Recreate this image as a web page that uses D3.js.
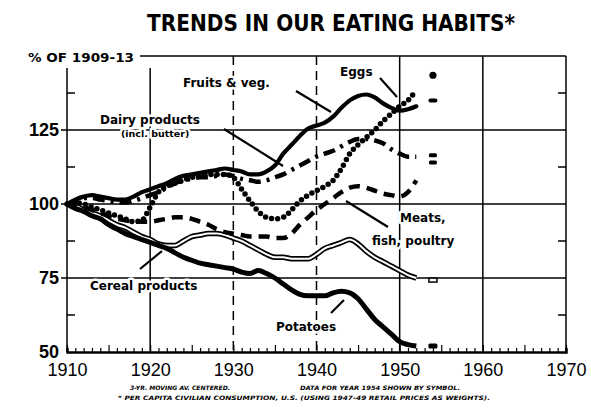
<!DOCTYPE html>
<html lang="en">
<head>
    <meta charset="UTF-8">
    <title>Trends in our eating habits</title>
    <script src="https://d3js.org/d3.v7.min.js"></script>
    <style>
        body { margin: 0; background: #fff; }
        text { fill: #000; }
        text.label {
            font-family: 'DejaVu Sans', sans-serif;
            font-weight: bold;
            font-size: 12px;
            stroke: #fff;
            stroke-width: 5px;
            paint-order: stroke;
            stroke-linejoin: round;
        }
        text.note {
            font-family: 'DejaVu Sans', sans-serif;
            font-weight: bold;
            font-style: italic;
            font-size: 6px;
        }
    </style>
</head>
<body>
<svg height="410" width="591"></svg>
<script>
    // 3-yr moving averages, % of 1909-13, years 1910..1952
    const years = [1910,1911,1912,1913,1914,1915,1916,1917,1918,1919,
                   1920,1921,1922,1923,1924,1925,1926,1927,1928,1929,
                   1930,1931,1932,1933,1934,1935,1936,1937,1938,1939,
                   1940,1941,1942,1943,1944,1945,1946,1947,1948,1949,
                   1950,1951,1952];
    const fruits = [100,101.5,102.5,103,102.5,102,101.5,101.5,102.5,104,
                    105,106,107,108.5,109.5,110,110.5,111,111.5,112,
                    111.5,111,110,110,111,113,117,120,123,125.5,
                    126.5,127.5,129.5,132.5,135,136.5,137,136,134,132.5,
                    131.5,132,133];
    const eggs = [100,100.5,100,99,98,97,96,95,94,94.5,
                  99,104,106,107,108,109,109.5,110,110,110,
                  109,105,101,97.5,95.5,95,95.5,98,101,103,
                  104.5,106,108,112,117,120,122.5,125,128,130.5,
                  133,135,138.5];
    const dairy = [100,101,102,102,101.5,101,100.5,100.5,101,102,
                   103,104,105.5,107,108,108.5,109,109,109.5,110,
                   109.5,108.5,108,107.5,108,109,110,111.5,113,114.5,
                   116,117,118,119.5,121,122,122,121.5,120.5,118.5,
                   117,116,116];
    const meats = [100,100,99,98,97,96,95,94.5,94,94,
                   94,94.5,95,95.5,95.5,95,94,93,91.5,90.5,
                   90,89.5,89,89,89,88.5,88.5,90,93,95.5,
                   98,100,102,104,105.5,106,105.5,104.5,103.5,103,
                   102.5,104,108];
    const cereal = [100,99.5,98,97,96,94.5,93,92,90.5,89,
                    88,86.5,86,86,87.5,89,89.5,90,90,89.5,
                    88.5,87.5,86,84.5,83,82,82,81.5,81.5,81.5,
                    83,85,86,87,88,86.5,84,82,80.5,79,
                    77.5,76,75];
    const potatoes = [100,98.5,97.5,96,95,93,91.5,90,89,88,
                      87,86,85,83.5,82,81,80,79.5,79,78.5,
                      78,77,76.5,77.5,76.5,75,73,71,69.5,69,
                      69,69,70,70.5,70,68,64.5,61,58.5,56,
                      53.5,52.5,52];
    // 1954 values shown by symbol
    const year1954 = 1954;
    const sym1954 = {eggs: 143.5, fruits: 135, dairy: 116.5, meats: 114, cereal: 74.3, potatoes: 52};

    const decadeTicks = [1910,1920,1930,1940,1950,1960,1970];
    const valueTicks = [50,75,100,125];
    const minorValueTicks = [62.5,87.5,112.5,137.5];

    const svg = d3.select("svg");
    const x = d3.scaleLinear().domain([1910,1970]).range([67,566]);
    const y = d3.scaleLinear().domain([50,150]).range([352,56]);

    // title
    svg.append("text").attr("x", 331).attr("y", 31)
        .attr("text-anchor", "middle")
        .style("font-family", "'DejaVu Sans', sans-serif")
        .style("font-weight", "bold").style("font-size", "23px")
        .attr("textLength", 368).attr("lengthAdjust", "spacingAndGlyphs")
        .text("TRENDS IN OUR EATING HABITS*");

    svg.append("text").attr("x", 28).attr("y", 62)
        .style("font-family", "'DejaVu Sans', sans-serif")
        .style("font-weight", "bold").style("font-size", "13px")
        .attr("textLength", 106).attr("lengthAdjust", "spacingAndGlyphs")
        .text("% OF 1909-13");

    const grid = svg.append("g").attr("stroke", "#000").attr("fill", "none");
    // frame
    grid.append("line").attr("x1", 140).attr("x2", x(1970)).attr("y1", y(150)).attr("y2", y(150)).attr("stroke-width", 1.5);
    grid.append("line").attr("x1", x(1910)).attr("x2", x(1910)).attr("y1", 68).attr("y2", y(50)).attr("stroke-width", 1.5);
    grid.append("line").attr("x1", x(1970)).attr("x2", x(1970)).attr("y1", y(150)).attr("y2", y(50)).attr("stroke-width", 1.5);
    // horizontal grid lines
    grid.selectAll("line.h").data([75,100,125]).enter().append("line").attr("class", "h")
        .attr("x1", x(1910) - 6).attr("x2", x(1970)).attr("y1", y).attr("y2", y)
        .attr("stroke-width", 1.6);
    // vertical grid lines
    grid.selectAll("line.v").data([1920,1930,1940,1950,1960]).enter().append("line").attr("class", "v")
        .attr("x1", x).attr("x2", x)
        .attr("y1", d => d === 1920 ? 68 : y(150)).attr("y2", y(50))
        .attr("stroke-width", 1.5)
        .attr("stroke-dasharray", d => (d === 1930 || d === 1940) ? "9,6" : null);
    // minor value ticks on both sides
    grid.selectAll("line.ml").data(minorValueTicks).enter().append("line")
        .attr("x1", x(1910)).attr("x2", x(1910) + 8).attr("y1", y).attr("y2", y).attr("stroke-width", 1.5);
    grid.selectAll("line.mr").data(minorValueTicks).enter().append("line")
        .attr("x1", x(1970) - 8).attr("x2", x(1970)).attr("y1", y).attr("y2", y).attr("stroke-width", 1.5);

    // bottom axis: year ticks + decade labels
    const yearTicks = d3.range(1910, 1971);
    const gx = svg.append("g").attr("transform", `translate(0,${y(50)})`);
    gx.call(d3.axisBottom(x).tickValues(yearTicks).tickSize(-4).tickFormat(""));
    gx.selectAll(".tick line").attr("stroke-width", 1.2)
        .attr("y2", d => d % 5 === 0 ? -7 : -4);
    gx.select(".domain").attr("stroke-width", 2.5);
    const gxl = svg.append("g").attr("transform", `translate(0,${y(50)})`);
    gxl.call(d3.axisBottom(x).tickValues(decadeTicks).tickSize(0).tickPadding(11).tickFormat(d3.format("d")));
    gxl.select(".domain").remove();
    gxl.selectAll("text").style("font-family", "'Liberation Sans', sans-serif")
        .style("font-size", "18px").attr("dy", "0.71em");

    // left axis labels
    const gy = svg.append("g").attr("transform", `translate(${x(1910)},0)`);
    gy.call(d3.axisLeft(y).tickValues(valueTicks).tickSize(0).tickPadding(8));
    gy.select(".domain").remove();
    gy.selectAll("text").style("font-family", "'Liberation Sans', sans-serif")
        .style("font-weight", "bold").style("font-size", "18px");

    // series
    const line = d3.line().x((d, i) => x(years[i])).y(d => y(d)).curve(d3.curveMonotoneX);
    const plot = svg.append("g").attr("fill", "none").attr("stroke", "#000");

    plot.append("path").datum(cereal).attr("d", line).attr("stroke-width", 5.5);
    plot.append("path").datum(cereal).attr("d", line).attr("stroke", "#fff").attr("stroke-width", 2);
    plot.append("path").datum(potatoes).attr("d", line).attr("stroke-width", 5).attr("stroke-linejoin", "round");
    plot.append("path").datum(meats).attr("d", line).attr("stroke-width", 4.5)
        .attr("stroke-dasharray", "11,7");
    plot.append("path").datum(dairy).attr("d", line).attr("stroke-width", 4.5)
        .attr("stroke-dasharray", "12,6,3,6");
    plot.append("path").datum(fruits).attr("d", line).attr("stroke-width", 4.2)
        .attr("stroke-linejoin", "round").attr("stroke-linecap", "round");
    plot.append("path").datum(eggs).attr("d", line).attr("stroke-width", 5.5)
        .attr("stroke-dasharray", "0,6.2").attr("stroke-linecap", "round");

    // 1954 symbols
    const sx = x(year1954);
    const sym = svg.append("g").attr("fill", "#000");
    sym.append("circle").attr("cx", sx).attr("cy", y(sym1954.eggs)).attr("r", 3.6);
    sym.append("rect").attr("x", sx - 4.5).attr("y", y(sym1954.fruits) - 2).attr("width", 9).attr("height", 4).attr("rx", 2);
    sym.append("rect").attr("x", sx - 4).attr("y", y(sym1954.dairy) - 2).attr("width", 8).attr("height", 4).attr("rx", 1.5);
    sym.append("rect").attr("x", sx - 4).attr("y", y(sym1954.meats) - 2).attr("width", 8).attr("height", 4).attr("rx", 1.5);
    sym.append("rect").attr("x", sx - 4).attr("y", y(sym1954.cereal) - 2).attr("width", 8).attr("height", 4)
        .attr("fill", "#fff").attr("stroke", "#000").attr("stroke-width", 1.5);
    sym.append("rect").attr("x", sx - 4.5).attr("y", y(sym1954.potatoes) - 2.5).attr("width", 9).attr("height", 5).attr("rx", 1.5);

    // labels
    const labels = [
        {t: "Fruits & veg.", x: 183, y: 87},
        {t: "Eggs", x: 340, y: 76},
        {t: "Dairy products", x: 100, y: 124},
        {t: "(incl. butter)", x: 121, y: 137, s: 9.5},
        {t: "Meats,", x: 400, y: 222},
        {t: "fish, poultry", x: 372, y: 245},
        {t: "Cereal products", x: 90, y: 290},
        {t: "Potatoes", x: 276, y: 331}
    ];
    svg.append("g").selectAll("text").data(labels).enter().append("text")
        .attr("class", "label").attr("x", d => d.x).attr("y", d => d.y)
        .style("font-size", d => (d.s || 12) + "px").text(d => d.t);

    // pointer lines
    const pointers = [
        [[296, 91], [331, 112]],
        [[380, 78], [397, 97]],
        [[224, 129], [283, 166]],
        [[346, 201], [388, 227]],
        [[140, 269], [162, 251]],
        [[331, 313], [344, 300]]
    ];
    svg.append("g").selectAll("line").data(pointers).enter().append("line")
        .attr("x1", d => d[0][0]).attr("y1", d => d[0][1])
        .attr("x2", d => d[1][0]).attr("y2", d => d[1][1])
        .attr("stroke", "#000").attr("stroke-width", 2.2);

    // footnotes
    const notes = [
        {t: "3-YR. MOVING AV. CENTERED.", x: 130, y: 390, w: 100},
        {t: "DATA FOR YEAR 1954 SHOWN BY SYMBOL.", x: 300, y: 390, w: 160},
        {t: "* PER CAPITA CIVILIAN CONSUMPTION, U.S. (USING 1947-49 RETAIL PRICES AS WEIGHTS).", x: 118, y: 400, w: 372}
    ];
    svg.append("g").selectAll("text").data(notes).enter().append("text")
        .attr("class", "note").attr("x", d => d.x).attr("y", d => d.y)
        .attr("textLength", d => d.w).attr("lengthAdjust", "spacingAndGlyphs")
        .text(d => d.t);
</script>
</body>
</html>
